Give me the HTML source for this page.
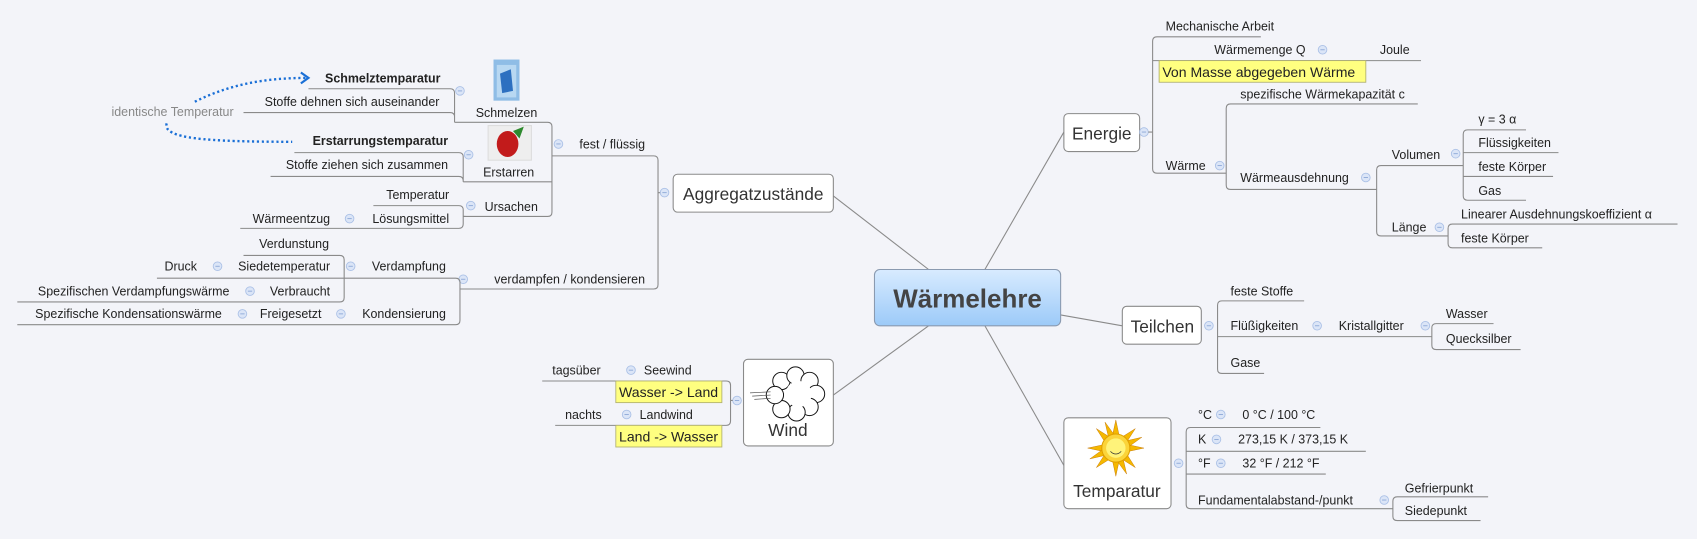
<!DOCTYPE html>
<html><head><meta charset="utf-8"><style>
html,body{margin:0;padding:0;background:#f3f4f9;}
svg{display:block;}
text{font-family:"Liberation Sans",sans-serif;font-size:11.5px;fill:#222;}
.n16{font-size:16px;fill:#333;}
.b{font-weight:bold;}
.e{text-anchor:end;}
.m{text-anchor:middle;}
.l{stroke:#8a8a8a;stroke-width:1;fill:none;}
.box{fill:#fff;stroke:#8a8a8a;stroke-width:1;}
.y{fill:#ffff80;stroke:#b0b070;stroke-width:0.8;}
</style></head><body>
<svg width="1697" height="539" viewBox="0 0 1568 498" preserveAspectRatio="none" xmlns="http://www.w3.org/2000/svg">
<defs>
<linearGradient id="g" x1="0" y1="0" x2="0" y2="1"><stop offset="0" stop-color="#d8ebff"/><stop offset="1" stop-color="#9ccaf8"/></linearGradient>
<g id="c"><circle r="4" fill="#dbe5f7" stroke="#aac0e6" stroke-width="0.8"/><line x1="-2" y1="0" x2="2" y2="0" stroke="#8aa6d6" stroke-width="0.8"/></g>
</defs>
<rect width="1568" height="498" fill="#f3f4f9"/>

<g class="l">
<line x1="858" y1="249" x2="770" y2="181"/>
<line x1="910" y1="249" x2="983" y2="122"/>
<line x1="980" y1="291" x2="1037" y2="301"/>
<line x1="910" y1="301" x2="983" y2="430"/>
<line x1="858" y1="301" x2="770" y2="365"/>
</g>

<rect x="808" y="249" width="172" height="52" rx="5" fill="url(#g)" stroke="#8a9ab0"/>
<text x="894" y="284" class="m b" style="font-size:24px;fill:#444">Wärmelehre</text>

<rect class="box" x="983" y="105" width="70" height="35" rx="4"/>
<text x="1018" y="129" class="m n16">Energie</text>
<use href="#c" x="1057" y="122"/>
<path class="l" d="M1065,38 Q1065,34 1069,34 L1165,34 M1065,38 L1065,156 Q1065,160 1069,160 L1133,160 M1061,122 L1065,122 M1065,56 L1313,56"/>
<text x="1077" y="28">Mechanische Arbeit</text>
<text x="1122" y="50">Wärmemenge Q</text>
<use href="#c" x="1222" y="46"/>
<text x="1275" y="50">Joule</text>
<rect class="y" x="1071" y="56" width="191" height="20"/>
<text x="1074" y="71" style="font-size:13px">Von Masse abgegeben Wärme</text>
<text x="1077" y="157">Wärme</text>
<use href="#c" x="1127" y="153"/>
<path class="l" d="M1133,100 Q1133,96 1137,96 L1310,96 M1133,100 L1133,171 Q1133,175 1137,175 L1272,175"/>
<text x="1146" y="91">spezifische Wärmekapazität c</text>
<text x="1146" y="168">Wärmeausdehnung</text>
<use href="#c" x="1262" y="164"/>
<path class="l" d="M1272,157 Q1272,153 1276,153 L1352,153 M1272,157 L1272,214 Q1272,218 1276,218 L1338,218"/>
<text x="1286" y="147">Volumen</text>
<use href="#c" x="1345" y="142"/>
<path class="l" d="M1352,124 Q1352,120 1356,120 L1410,120 M1352,124 L1352,181 Q1352,185 1356,185 L1410,185 M1352,141 L1440,141 M1352,163 L1435,163"/>
<text x="1366" y="114">γ = 3 α</text>
<text x="1366" y="136">Flüssigkeiten</text>
<text x="1366" y="158">feste Körper</text>
<text x="1366" y="180">Gas</text>
<text x="1286" y="214">Länge</text>
<use href="#c" x="1330" y="210"/>
<path class="l" d="M1338,211 Q1338,207 1342,207 L1550,207 M1338,211 L1338,225 Q1338,229 1342,229 L1425,229"/>
<text x="1350" y="202">Linearer Ausdehnungskoeffizient α</text>
<text x="1350" y="224">feste Körper</text>

<rect class="box" x="1037" y="283" width="73" height="35" rx="4"/>
<text x="1074" y="307" class="m n16">Teilchen</text>
<use href="#c" x="1117" y="301"/>
<path class="l" d="M1125,282 Q1125,278 1129,278 L1205,278 M1125,282 L1125,341 Q1125,345 1129,345 L1168,345 M1125,311 L1323,311"/>
<text x="1137" y="273">feste Stoffe</text>
<text x="1137" y="305">Flüßigkeiten</text>
<use href="#c" x="1217" y="301"/>
<text x="1237" y="305">Kristallgitter</text>
<use href="#c" x="1317" y="301"/>
<path class="l" d="M1323,303 Q1323,299 1327,299 L1380,299 M1323,303 L1323,319 Q1323,323 1327,323 L1405,323"/>
<text x="1336" y="294">Wasser</text>
<text x="1336" y="317">Quecksilber</text>
<text x="1137" y="339">Gase</text>

<rect class="box" x="983" y="386" width="99" height="84" rx="4"/>
<g transform="translate(1031,414)">
<g fill="#f5b800" stroke="#c07000" stroke-width="0.4">
<polygon points="0,-26 3,-12 -3,-12"/><polygon points="0,26 3,12 -3,12"/>
<polygon points="-26,0 -12,3 -12,-3"/><polygon points="26,0 12,3 12,-3"/>
<polygon points="-18,-18 -7,-11 -11,-7"/><polygon points="18,18 7,11 11,7"/>
<polygon points="18,-18 11,-7 7,-11"/><polygon points="-18,18 -11,7 -7,11"/>
<polygon points="-10,-24 -2,-13 -7,-11"/><polygon points="10,24 2,13 7,11"/>
<polygon points="24,-10 11,-7 13,-2"/><polygon points="-24,10 -11,7 -13,2"/>
</g>
<circle r="13" fill="#fbd43a" stroke="#e0a000"/>
<circle r="9" fill="#fff37a"/>
<path d="M-5,3 Q0,8 5,3" stroke="#333" fill="none" stroke-width="0.7"/>
</g>
<text x="1032" y="459" class="m n16">Temparatur</text>
<use href="#c" x="1089" y="428"/>
<path class="l" d="M1096,399 Q1096,395 1100,395 L1220,395 M1096,399 L1096,466 Q1096,470 1100,470 L1287,470 M1096,417 L1262,417 M1096,438 L1225,438"/>
<text x="1107" y="387">°C</text><use href="#c" x="1128" y="383"/><text x="1148" y="387">0 °C / 100 °C</text>
<text x="1107" y="410">K</text><use href="#c" x="1124" y="406"/><text x="1144" y="410">273,15 K / 373,15 K</text>
<text x="1107" y="432">°F</text><use href="#c" x="1128" y="428"/><text x="1148" y="432">32 °F / 212 °F</text>
<text x="1107" y="466">Fundamentalabstand-/punkt</text>
<use href="#c" x="1279" y="462"/>
<path class="l" d="M1287,463 Q1287,459 1291,459 L1375,459 M1287,463 L1287,477 Q1287,481 1291,481 L1368,481"/>
<text x="1298" y="455">Gefrierpunkt</text>
<text x="1298" y="476">Siedepunkt</text>

<rect class="box" x="687" y="332" width="83" height="80" rx="4"/>
<g fill="#fff" stroke="#111" stroke-width="0.9">
<circle cx="722" cy="352" r="8"/><circle cx="735" cy="347" r="8"/><circle cx="748" cy="352" r="8"/>
<circle cx="754" cy="364" r="8"/><circle cx="748" cy="376" r="8"/><circle cx="736" cy="381" r="8"/>
<circle cx="722" cy="378" r="8"/><circle cx="716" cy="365" r="8"/>
<circle cx="738" cy="364" r="12" stroke="none"/>
</g>
<path d="M693,363 L712,362 M695,366 L712,365 M697,369 L712,368" stroke="#555" stroke-width="0.6"/>
<text x="728" y="403" class="m n16">Wind</text>
<use href="#c" x="681" y="370"/>
<path class="l" d="M501,352 L671,352 Q675,352 675,356 L675,389 Q675,393 671,393 L513,393 M675,370 L677,370"/>
<text x="555" y="346" class="e">tagsüber</text>
<use href="#c" x="583" y="342"/>
<text x="595" y="346">Seewind</text>
<rect class="y" x="569" y="352" width="98" height="20"/>
<text x="572" y="367" style="font-size:13px">Wasser -&gt; Land</text>
<text x="556" y="387" class="e">nachts</text>
<use href="#c" x="579" y="383"/>
<text x="591" y="387">Landwind</text>
<rect class="y" x="569" y="393" width="98" height="20"/>
<text x="572" y="408" style="font-size:13px">Land -&gt; Wasser</text>

<rect class="box" x="622" y="161" width="148" height="35" rx="4"/>
<text x="696" y="185" class="m n16">Aggregatzustände</text>
<use href="#c" x="614" y="178"/>
<path class="l" d="M510,144 L604,144 Q608,144 608,148 L608,263 Q608,267 604,267 L425,267 M608,178 L610,178"/>
<use href="#c" x="516" y="133"/>
<text x="596" y="137" class="e">fest / flüssig</text>
<use href="#c" x="428" y="258"/>
<text x="596" y="262" class="e">verdampfen / kondensieren</text>

<path class="l" d="M420,113 L506,113 Q510,113 510,117 L510,196 Q510,200 506,200 L428,200 M510,168 L428,168"/>
<rect x="456" y="55" width="24" height="38" fill="#8fbde6"/>
<rect x="459" y="60" width="18" height="30" fill="#b8d8f2"/>
<path d="M462,68 L472,64 L474,84 L464,86 Z" fill="#2d70c0"/>
<text x="468" y="108" class="m">Schmelzen</text>
<use href="#c" x="425" y="84"/>
<path class="l" d="M285,82 L416,82 Q420,82 420,86 L420,113 M225,104 L416,104 Q420,104 420,108"/>
<text x="407" y="76" class="e b">Schmelztemparatur</text>
<text x="406" y="98" class="e">Stoffe dehnen sich auseinander</text>
<rect x="451" y="116" width="40" height="32" fill="#eee" stroke="#ddd"/>
<ellipse cx="469" cy="133" rx="10" ry="12" fill="#c21b1b"/>
<path d="M474,121 L484,117 L480,128 Z" fill="#2e8a2e"/>
<text x="470" y="163" class="m">Erstarren</text>
<use href="#c" x="433" y="143"/>
<path class="l" d="M272,141 L424,141 Q428,141 428,145 L428,168 M250,163 L424,163 Q428,163 428,167"/>
<text x="414" y="134" class="e b">Erstarrungstemparatur</text>
<text x="414" y="156" class="e">Stoffe ziehen sich zusammen</text>
<use href="#c" x="435" y="190"/>
<text x="497" y="195" class="e">Ursachen</text>
<path class="l" d="M345,190 L424,190 Q428,190 428,194 L428,207 Q428,211 424,211 L222,211 M428,200 L430,200"/>
<text x="415" y="184" class="e">Temperatur</text>
<text x="415" y="206" class="e">Lösungsmittel</text>
<use href="#c" x="323" y="202"/>
<text x="305" y="206" class="e">Wärmeentzug</text>

<text x="103" y="107" style="fill:#888">identische Temperatur</text>
<path d="M180,94 C212,78 245,72 283,72" stroke="#1a6fd6" stroke-width="2.2" stroke-dasharray="2,2.5" fill="none"/>
<path d="M278,67 L285,72 L278,77" stroke="#1a6fd6" stroke-width="2" fill="none"/>
<path d="M154,114 C150,128 190,131 270,131" stroke="#1a6fd6" stroke-width="2.2" stroke-dasharray="2,2.5" fill="none"/>

<path class="l" d="M318,257 L421,257 Q425,257 425,261 L425,296 Q425,300 421,300 L16,300 M425,267 L427,267"/>
<use href="#c" x="324" y="246"/>
<text x="412" y="250" class="e">Verdampfung</text>
<path class="l" d="M225,236 L314,236 Q318,236 318,240 L318,275 Q318,279 314,279 L16,279 M145,257 L318,257"/>
<text x="304" y="229" class="e">Verdunstung</text>
<text x="305" y="250" class="e">Siedetemperatur</text>
<use href="#c" x="201" y="246"/>
<text x="182" y="250" class="e">Druck</text>
<text x="305" y="273" class="e">Verbraucht</text>
<use href="#c" x="231" y="269"/>
<text x="212" y="273" class="e">Spezifischen Verdampfungswärme</text>
<text x="412" y="294" class="e">Kondensierung</text>
<use href="#c" x="315" y="290"/>
<text x="297" y="294" class="e">Freigesetzt</text>
<use href="#c" x="224" y="290"/>
<text x="205" y="294" class="e">Spezifische Kondensationswärme</text>
</svg>
</body></html>
